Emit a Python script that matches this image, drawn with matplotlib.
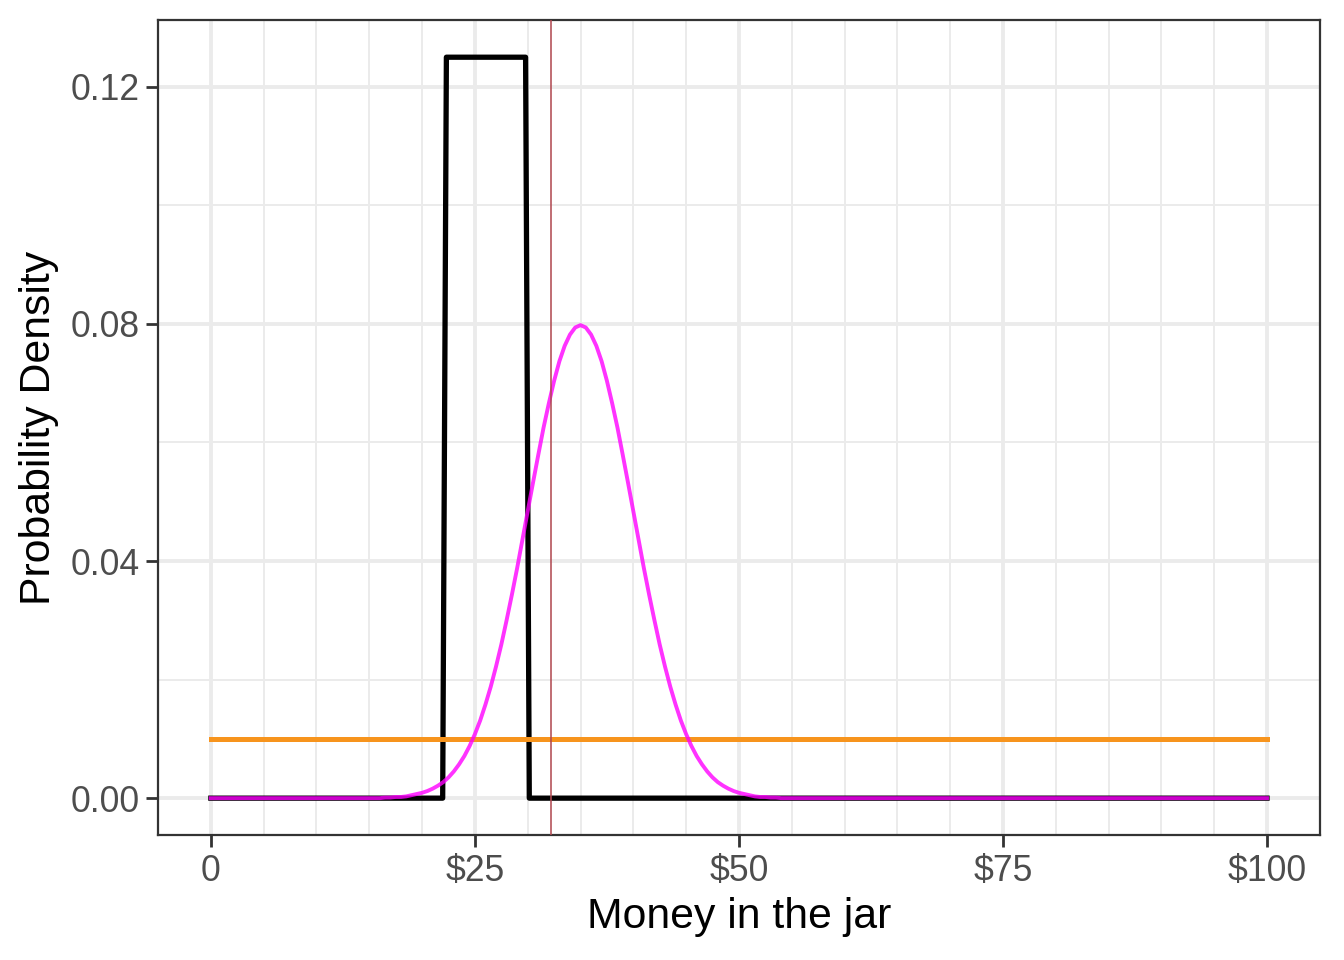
import matplotlib
matplotlib.use("Agg")
import matplotlib.pyplot as plt
from matplotlib.ticker import FixedLocator

plt.rcParams["font.family"] = ["Liberation Sans", "DejaVu Sans"]

# ─── data ────────────────────────────────────────────────────────────────────
# black: narrow uniform prior (~$22 to ~$30)
box_x = [0, 21.95, 22.3, 29.8, 30.15, 100]
box_y = [0, 0, 0.125, 0.125, 0, 0]

# orange: flat prior over $0 .. $100
flat_x = [0, 100]
flat_y = [0.01, 0.01]

# magenta: bell-shaped curve peaking near $35, read every $0.50 from $15 to $55
bell_x = [0] + [15 + 0.5 * i for i in range(81)] + [100]
bell_y = [0,
          # $15 .. $34.5
          0.0000, 0.0000, 0.0000, 0.0001, 0.0001, 0.0002, 0.0002, 0.0003,
          0.0005, 0.0007, 0.0009, 0.0012, 0.0016, 0.0021, 0.0027, 0.0035,
          0.0045, 0.0057, 0.0071, 0.0088, 0.0108, 0.0131, 0.0158, 0.0188,
          0.0222, 0.0259, 0.0300, 0.0343, 0.0388, 0.0436, 0.0484, 0.0532,
          0.0579, 0.0625, 0.0666, 0.0704, 0.0737, 0.0763, 0.0782, 0.0794,
          # $35
          0.0798,
          # $35.5 .. $55
          0.0794, 0.0782, 0.0763, 0.0737, 0.0704, 0.0666, 0.0625, 0.0579,
          0.0532, 0.0484, 0.0436, 0.0388, 0.0343, 0.0300, 0.0259, 0.0222,
          0.0188, 0.0158, 0.0131, 0.0108, 0.0088, 0.0071, 0.0057, 0.0045,
          0.0035, 0.0027, 0.0021, 0.0016, 0.0012, 0.0009, 0.0007, 0.0005,
          0.0003, 0.0002, 0.0002, 0.0001, 0.0001, 0.0000, 0.0000, 0.0000,
          0]

vline_x = 32.2

x_breaks = [0, 25, 50, 75, 100]
x_labels = ["0", "$25", "$50", "$75", "$100"]
x_minor = [5, 10, 15, 20, 30, 35, 40, 45, 55, 60, 65, 70, 80, 85, 90, 95]
y_breaks = [0.00, 0.04, 0.08, 0.12]
y_labels = ["0.00", "0.04", "0.08", "0.12"]
y_minor = [0.02, 0.06, 0.10]
# ─────────────────────────────────────────────────────────────────────────────

fig = plt.figure(figsize=(6.72, 4.8), dpi=200)
ax = fig.add_axes([0.1176, 0.130, 0.8644, 0.849])

ax.plot(box_x, box_y, color="black", lw=1.9, zorder=3, solid_joinstyle="round")
ax.plot(flat_x, flat_y, color="#F7941D", lw=1.8, zorder=4)
ax.plot(bell_x, bell_y, color="#FF00FF", alpha=0.8, lw=1.4, zorder=5)
ax.axvline(vline_x, color="#B04850", alpha=0.8, lw=0.7, zorder=6)

ax.set_xlim(-5, 105)
ax.set_ylim(-0.00625, 0.13125)

ax.xaxis.set_major_locator(FixedLocator(x_breaks))
ax.set_xticklabels(x_labels)
ax.xaxis.set_minor_locator(FixedLocator(x_minor))
ax.yaxis.set_major_locator(FixedLocator(y_breaks))
ax.set_yticklabels(y_labels)
ax.yaxis.set_minor_locator(FixedLocator(y_minor))

ax.grid(which="major", color="#EBEBEB", lw=1.4, zorder=0)
ax.grid(which="minor", color="#EBEBEB", lw=0.7, zorder=0)
ax.set_axisbelow(True)

for sp in ax.spines.values():
    sp.set_color("#333333")
    sp.set_linewidth(0.8)

ax.tick_params(which="major", length=4.2, width=1.0, color="#333333",
               labelsize=12.8, labelcolor="#4D4D4D", pad=2.5)
ax.tick_params(which="minor", length=0)

ax.set_xlabel("Money in the jar", fontsize=15.4, color="black", labelpad=3)
ax.set_ylabel("Probability Density", fontsize=15.4, color="black", labelpad=4)

fig.savefig("out.png", dpi=200)
